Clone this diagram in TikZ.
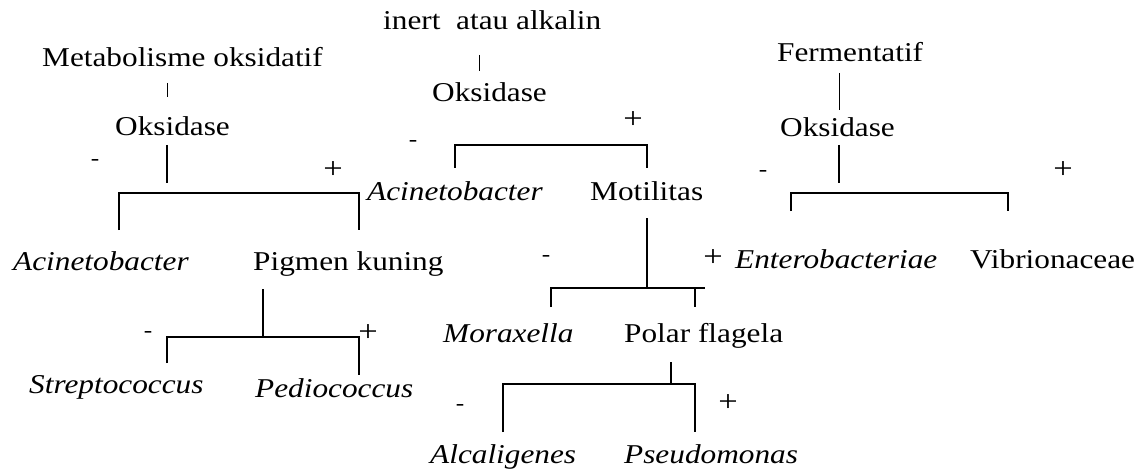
\documentclass[tikz,border=0pt]{standalone}
\usepackage{fontspec}
\setmainfont[FakeStretch=1.15]{Liberation Serif}
\usetikzlibrary{positioning}

\tikzset{
  lbl/.style={inner sep=0pt, anchor=base west, font=\fontsize{27.2}{30}\selectfont},
  taxon/.style={inner sep=0pt, anchor=base west, font=\fontsize{27.2}{30}\selectfont\itshape},
  sign/.style={inner sep=0pt, font=\fontsize{30}{32}\selectfont},
  neg/.style={inner sep=0pt, font=\fontsize{22}{24}\selectfont},
  branch/.style={line width=1.5pt},
  stub/.style={line width=1pt}
}

\begin{document}
\begin{tikzpicture}[x=1pt, y=-1pt]
            \useasboundingbox (0,0) rectangle (1147,473);

            % Oxidative metabolism
            \node[lbl] (metab) at (42,67) {Metabolisme oksidatif};
            \node[lbl] (oksA) at (115,136) {Oksidase};
            \node[taxon] (acinA) at (13,270) {Acinetobacter};
            \node[lbl] (pigmen) at (253,270) {Pigmen kuning};
            \node[taxon] (strep) at (29,393) {Streptococcus};
            \node[taxon] (pedio) at (255,397) {Pediococcus};
            \node[neg] (mA) at (95,162) {-};
            \node[sign] (pA) at (333,170) {+};
            \node[neg] (mB) at (148,334) {-};
            \node[sign] (pB) at (368,333) {+};

            \coordinate (metabEnd) at (167,83);  \coordinate (oksAtop) at (167,97);
            \coordinate (oksAend) at (167,145);  \coordinate (oksAstop) at (167,183);
            \coordinate (jAl) at (119,193);      \coordinate (jAr) at (359,193);
            \coordinate (acinAtop) at (119,230); \coordinate (pigTop) at (359,230);
            \coordinate (pigEnd) at (263,289);   \coordinate (jB) at (263,337);
            \coordinate (jBl) at (167,337);      \coordinate (jBr) at (359,337);
            \coordinate (strepTop) at (167,363); \coordinate (pedioTop) at (359,375);

            \draw[stub] (metabEnd) -- (oksAtop);
            \draw[branch] (oksAend) -- (oksAstop);
            \draw[branch] (acinAtop) -- (jAl) -- (jAr) -- (pigTop);
            \draw[branch] (pigEnd) -- (jB);
            \draw[branch] (strepTop) -- (jBl) -- (jBr) -- (pedioTop);

            % Inert or alkaline
            \node[lbl] (inert) at (383,30) {inert\ \ atau alkalin};
            \node[lbl] (oksB) at (432,102) {Oksidase};
            \node[taxon] (acinB) at (367,200) {Acinetobacter};
            \node[lbl] (motil) at (590,200) {Motilitas};
            \node[taxon] (morax) at (443,342) {Moraxella};
            \node[lbl] (polar) at (624,342) {Polar flagela};
            \node[taxon] (alcal) at (430,463) {Alcaligenes};
            \node[taxon] (pseudo) at (624,463) {Pseudomonas};
            \node[neg] (mC) at (413,143) {-};
            \node[sign] (pC) at (633,120) {+};
            \node[neg] (mD) at (546,258) {-};
            \node[sign] (pD) at (713,258) {+};
            \node[neg] (mE) at (460,407) {-};
            \node[sign] (pE) at (728,403) {+};

            \coordinate (inertEnd) at (479,55);  \coordinate (oksBtop) at (479,71);
            \coordinate (jCl) at (455,145);      \coordinate (jCr) at (647,145);
            \coordinate (acinBtop) at (455,168); \coordinate (motilTop) at (647,168);
            \coordinate (motilEnd) at (647,218); \coordinate (jD) at (647,288);
            \coordinate (jDl) at (551,288);      \coordinate (jDr) at (705,288);
            \coordinate (jDp) at (695,288);
            \coordinate (moraxTop) at (551,307); \coordinate (polarTop) at (695,307);
            \coordinate (polarEnd) at (671,362); \coordinate (jE) at (671,384);
            \coordinate (jEl) at (503,384);      \coordinate (jEr) at (695,384);
            \coordinate (alcalTop) at (503,432); \coordinate (pseudoTop) at (695,432);

            \draw[stub] (inertEnd) -- (oksBtop);
            \draw[branch] (acinBtop) -- (jCl) -- (jCr) -- (motilTop);
            \draw[branch] (motilEnd) -- (jD);
            \draw[branch] (moraxTop) -- (jDl) -- (jDr);
            \draw[branch] (jDp) -- (polarTop);
            \draw[branch] (polarEnd) -- (jE);
            \draw[branch] (alcalTop) -- (jEl) -- (jEr) -- (pseudoTop);

            % Fermentative
            \node[lbl] (ferment) at (777,62) {Fermentatif};
            \node[lbl] (oksC) at (780,137) {Oksidase};
            \node[taxon] (entero) at (735,268) {Enterobacteriae};
            \node[lbl] (vibrio) at (970,268) {Vibrionaceae};
            \node[neg] (mF) at (763,173) {-};
            \node[sign] (pF) at (1063,170) {+};

            \coordinate (fermEnd) at (839,73);   \coordinate (oksCtop) at (839,110);
            \coordinate (oksCend) at (839,145);  \coordinate (oksCstop) at (839,183);
            \coordinate (jFl) at (791,193);      \coordinate (jFr) at (1008,193);
            \coordinate (enteroTop) at (791,211); \coordinate (vibrioTop) at (1008,211);

            \draw[stub] (fermEnd) -- (oksCtop);
            \draw[branch] (oksCend) -- (oksCstop);
            \draw[branch] (enteroTop) -- (jFl) -- (jFr) -- (vibrioTop);
        \end{tikzpicture}
\end{document}
